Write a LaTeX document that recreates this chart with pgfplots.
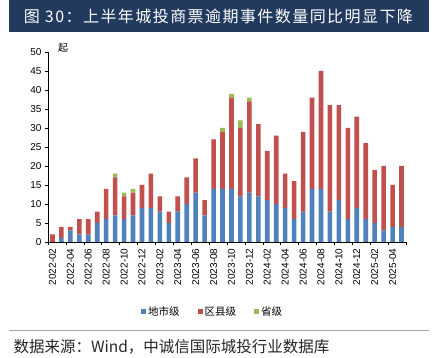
\documentclass[border=0pt]{standalone}
\usepackage{fontspec}
\setmainfont{Liberation Sans}
\newfontfamily\cjk{Noto Sans CJK SC}
\newfontfamily\cjktitle[LetterSpace=9]{Noto Sans CJK SC}
\usepackage{pgfplots}
\pgfplotsset{compat=1.18}
\usepackage{pgfplotstable}
\definecolor{cblue}{RGB}{79,129,189}
\definecolor{cred}{RGB}{192,80,77}
\definecolor{cgreen}{RGB}{155,187,89}
\definecolor{banner}{RGB}{33,58,94}

\pgfplotstableread{
idx blue red green
0 0 2 0
1 1 3 0
2 3 1 0
3 2 4 0
4 2 4 0
5 5 3 0
6 6 8 0
7 7 10 1
8 6 6 1
9 7 6 1
10 9 6 0
11 9 9 0
12 8 4 0
13 5 3 0
14 8 4 0
15 10 7 0
16 13 9 0
17 7 4 0
18 14 13 0
19 14 15 1
20 14 24 1
21 12 18 2
22 13 24 1
23 12 19 0
24 11 13 0
25 10 18 0
26 9 9 0
27 6 10 0
28 8 21 0
29 14 24 0
30 14 31 0
31 8 28 0
32 11 25 0
33 6 24 0
34 9 24 0
35 6 20 0
36 5 14 0
37 3 17 0
38 4 11 0
39 4 16 0
}\data

\begin{document}
\begin{tikzpicture}[x=1pt,y=1pt]
\path[use as bounding box, fill=white] (0,0) rectangle (434,358);
\fill[banner] (9,326) rectangle (429,358);
\node[text=white, font=\cjktitle\fontsize{16}{16}\selectfont] at (218.5,342) {图 30：上半年城投商票逾期事件数量同比明显下降};
\begin{axis}[
  at={(48pt,116pt)}, anchor=south west, scale only axis,
  width=358pt, height=190pt,
  ybar stacked, bar width=4.6pt,
  xmin=-0.5, xmax=39.5, ymin=0, ymax=50,
  axis lines=left,
  axis line style={-, black, line width=0.6pt},
  ytick={0,5,...,50},
  xtick={0,2,...,38},
  xticklabels={2022-02,2022-04,2022-06,2022-08,2022-10,2022-12,2023-02,2023-04,2023-06,2023-08,2023-10,2023-12,2024-02,2024-04,2024-06,2024-08,2024-10,2024-12,2025-02,2025-04},
  minor xtick={-0.5,1.5,...,39.5},
  major x tick style={draw=none},
  minor x tick style={black, line width=0.5pt},
  ytick style={black, line width=0.5pt},
  tick align=outside,
  major tick length=3pt, minor tick length=3pt,
  /pgf/number format/assume math mode=true,
  yticklabel style={font=\fontsize{10}{10}\selectfont},
  xticklabel style={rotate=90, anchor=east, font=\fontsize{10}{10}\selectfont},
  legend style={at={(0.46,-0.367)}, anchor=center, draw=none, fill=none,
    legend columns=3, font=\cjk\fontsize{10.5}{10.5}\selectfont,
    /tikz/every even column/.append style={column sep=16pt}},
  legend cell align=left,
]
\addplot[fill=cblue, draw=none,
  legend image code/.code={\fill[cblue] (0pt,-2.5pt) rectangle (5pt,2.5pt);}]
  table[x=idx,y=blue]{\data};
\addplot[fill=cred, draw=none,
  legend image code/.code={\fill[cred] (0pt,-2.5pt) rectangle (5pt,2.5pt);}]
  table[x=idx,y=red]{\data};
\addplot[fill=cgreen, draw=none,
  legend image code/.code={\fill[cgreen] (0pt,-2.5pt) rectangle (5pt,2.5pt);}]
  table[x=idx,y=green]{\data};
\legend{地市级,区县级,省级}
\end{axis}
\node[font=\cjk\fontsize{10}{10}\selectfont] at (63,310) {起};
\draw[gray!70, line width=0.8pt] (9,28) -- (429,28);
\node[anchor=west, font=\cjk\fontsize{15.5}{15.5}\selectfont, text=black!85] at (10,11) {数据来源：Wind，中诚信国际城投行业数据库};
\end{tikzpicture}
\end{document}
